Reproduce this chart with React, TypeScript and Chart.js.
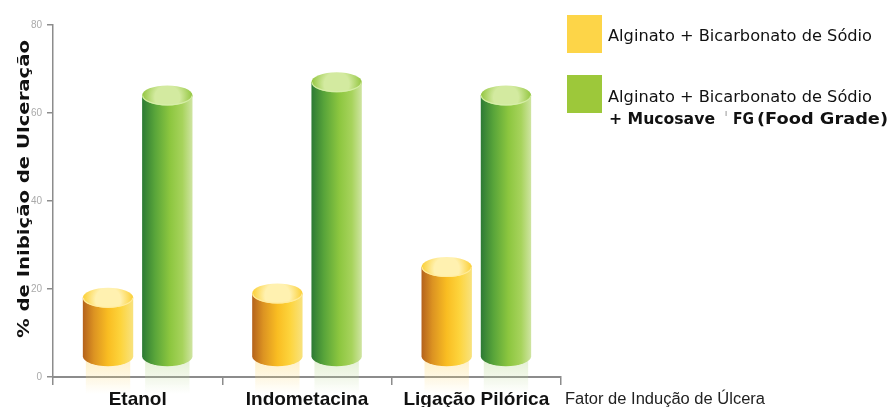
import React, { useEffect, useRef } from "react";
import { Chart, registerables } from "chart.js";

Chart.register(...registerables);

const categories = ["Etanol", "Indometacina", "Ligação Pilórica"];
const alginatoValues = [18, 19, 25];
const mucosaveValues = [64, 67, 64];
const yTickValues = [0, 20, 40, 60, 80];
const seriesNames = ["Alginato + Bicarbonato de Sódio", "Alginato + Bicarbonato de Sódio + Mucosave FG (Food Grade)"];
const legendLine1 = "Alginato + Bicarbonato de Sódio";
const legendLine2 = "Alginato + Bicarbonato de Sódio";
const legendLine3Parts = ["+ Mucosave", "FG", "(Food Grade)"];
const xAxisTitle = "Fator de Indução de Úlcera";
const yAxisTitle = "% de Inibição de Ulceração";

type Palette = {
  legend: string;
  body: [number, string][];
  topInner: string;
  topOuter: string;
  rim: string;
  refl: string;
};

const yellowPal: Palette = {
  legend: "#fdd548",
  body: [
    [0, "#b4621c"],
    [0.22, "#dc9322"],
    [0.5, "#f9bd22"],
    [0.75, "#fdd43c"],
    [1, "#f8e27e"],
  ],
  topInner: "#fff1b0",
  topOuter: "#fbcf34",
  rim: "rgba(255,236,160,0.9)",
  refl: "253,220,120",
};

const greenPal: Palette = {
  legend: "#9dc83a",
  body: [
    [0, "#2c7a34"],
    [0.25, "#58a43a"],
    [0.55, "#8cc63f"],
    [0.8, "#a7d35c"],
    [1, "#cfe4a2"],
  ],
  topInner: "#d3eaa0",
  topOuter: "#93c640",
  rim: "rgba(215,238,170,0.9)",
  refl: "190,220,150",
};

function drawCylinder(ctx: CanvasRenderingContext2D, x: number, top: number, base: number, w: number, pal: Palette) {
  const rx = w / 2;
  const ry = 10;
  const bottomC = base - 20;
  const left = x - rx;
  const right = x + rx;
  ctx.save();
  // reflection
  const rg = ctx.createLinearGradient(0, bottomC, 0, base + 18);
  rg.addColorStop(0, `rgba(${pal.refl},0.45)`);
  rg.addColorStop(1, `rgba(${pal.refl},0)`);
  ctx.fillStyle = rg;
  ctx.fillRect(left + 3, bottomC, w - 6, base + 18 - bottomC);
  // body
  const g = ctx.createLinearGradient(left, 0, right, 0);
  pal.body.forEach(([o, c]) => g.addColorStop(o, c));
  ctx.fillStyle = g;
  ctx.beginPath();
  ctx.moveTo(left, top);
  ctx.lineTo(left, bottomC);
  ctx.ellipse(x, bottomC, rx, ry, 0, Math.PI, 0, true);
  ctx.lineTo(right, top);
  ctx.closePath();
  ctx.fill();
  // top
  const tg = ctx.createRadialGradient(x, top + ry * 0.4, 2, x, top, rx);
  tg.addColorStop(0, pal.topInner);
  tg.addColorStop(0.45, pal.topInner);
  tg.addColorStop(1, pal.topOuter);
  ctx.beginPath();
  ctx.ellipse(x, top, rx, ry, 0, 0, Math.PI * 2);
  ctx.fillStyle = tg;
  ctx.fill();
  ctx.beginPath();
  ctx.ellipse(x, top, rx - 0.5, ry - 0.5, 0, 0, Math.PI, false);
  ctx.strokeStyle = pal.rim;
  ctx.lineWidth = 1.2;
  ctx.stroke();
  ctx.restore();
}

function fitText(ctx: CanvasRenderingContext2D, text: string, x: number, y: number, width: number) {
  const m = ctx.measureText(text).width;
  ctx.save();
  ctx.translate(x, y);
  ctx.scale(width / m, 1);
  ctx.fillText(text, 0, 0);
  ctx.restore();
}

const palettes = [yellowPal, greenPal];

const cylinderPlugin = {
  id: "cylinders",
  afterDatasetsDraw(chart: any) {
    const ctx: CanvasRenderingContext2D = chart.ctx;
    chart.data.datasets.forEach((_: any, di: number) => {
      const meta = chart.getDatasetMeta(di);
      meta.data.forEach((bar: any) => {
        drawCylinder(ctx, bar.x, bar.y, bar.base, bar.width, palettes[di]);
      });
    });
  },
};

const decorPlugin = {
  id: "decor",
  afterDraw(chart: any) {
    const ctx: CanvasRenderingContext2D = chart.ctx;
    ctx.save();
    // legend
    ctx.fillStyle = yellowPal.legend;
    ctx.fillRect(567, 15, 35, 38);
    ctx.fillStyle = greenPal.legend;
    ctx.fillRect(567, 75, 35, 38);
    ctx.fillStyle = "#111";
    ctx.textBaseline = "alphabetic";
    ctx.textAlign = "left";
    ctx.font = "16px 'DejaVu Sans'";
    fitText(ctx, legendLine1, 608, 41, 264);
    fitText(ctx, legendLine2, 608, 102, 264);
    ctx.font = "bold 16px 'DejaVu Sans'";
    fitText(ctx, legendLine3Parts[0], 609, 124, 106);
    fitText(ctx, legendLine3Parts[1], 733, 124, 21);
    fitText(ctx, legendLine3Parts[2], 757, 124, 131);
    ctx.fillStyle = "#aaa";
    ctx.fillRect(725.5, 111, 1.2, 5);
    // x axis title
    ctx.fillStyle = "#222";
    ctx.font = "16px 'Liberation Sans'";
    fitText(ctx, xAxisTitle, 565, 404, 200);
    // y axis title
    ctx.save();
    ctx.translate(29, 189);
    ctx.rotate(-Math.PI / 2);
    ctx.font = "bold 16px 'DejaVu Sans'";
    ctx.fillStyle = "#111";
    const w = ctx.measureText(yAxisTitle).width;
    ctx.scale(298 / w, 1);
    ctx.textAlign = "center";
    ctx.fillText(yAxisTitle, 0, 0);
    ctx.restore();
    ctx.restore();
  },
};

export default function App() {
  const ref = useRef<HTMLCanvasElement | null>(null);
  useEffect(() => {
    document.body.style.margin = "0";
    const canvas = ref.current;
    if (!canvas) return;
    const chart = new Chart(canvas, {
      type: "bar",
      data: {
        labels: categories,
        datasets: [
          {
            label: seriesNames[0],
            data: alginatoValues,
            backgroundColor: "rgba(0,0,0,0)",
            borderWidth: 0,
            categoryPercentage: 0.7,
            barPercentage: 0.85,
          },
          {
            label: seriesNames[1],
            data: mucosaveValues,
            backgroundColor: "rgba(0,0,0,0)",
            borderWidth: 0,
            categoryPercentage: 0.7,
            barPercentage: 0.85,
          },
        ],
      },
      options: {
        responsive: false,
        animation: false,
        devicePixelRatio: 1,
        layout: { padding: { top: 25, right: 330, left: 0, bottom: 0 } },
        plugins: {
          legend: { display: false },
          tooltip: { enabled: false },
          title: { display: false },
        },
        scales: {
          x: {
            afterFit: (s: any) => {
              s.height = 30;
            },
            grid: {
              display: true,
              drawOnChartArea: false,
              drawTicks: true,
              tickLength: 8,
              color: "#8c8c8c",
              lineWidth: 1.5,
              offset: true,
            },
            border: { display: true, color: "#8c8c8c", width: 2 },
            ticks: {
              padding: 3,
              color: "#111",
              font: { family: "'Liberation Sans'", size: 19, weight: "bold" },
              maxRotation: 0,
            },
          },
          y: {
            min: 0,
            max: 80,
            afterFit: (s: any) => {
              s.width = 53;
            },
            afterBuildTicks: (s: any) => {
              s.ticks = yTickValues.map((v) => ({ value: v }));
            },
            grid: {
              display: true,
              drawOnChartArea: false,
              drawTicks: true,
              tickLength: 6,
              color: "#8c8c8c",
              lineWidth: 1.5,
            },
            border: { display: true, color: "#8c8c8c", width: 1.5 },
            ticks: {
              padding: 5,
              color: "#aaaaaa",
              font: { family: "'Liberation Sans'", size: 10 },
            },
          },
        },
      },
      plugins: [cylinderPlugin, decorPlugin],
    } as any);
    return () => chart.destroy();
  }, []);
  return (
    <div style={{ width: 891, height: 407, background: "#fff" }}>
      <canvas ref={ref} width={891} height={407} style={{ display: "block" }} />
    </div>
  );
}
